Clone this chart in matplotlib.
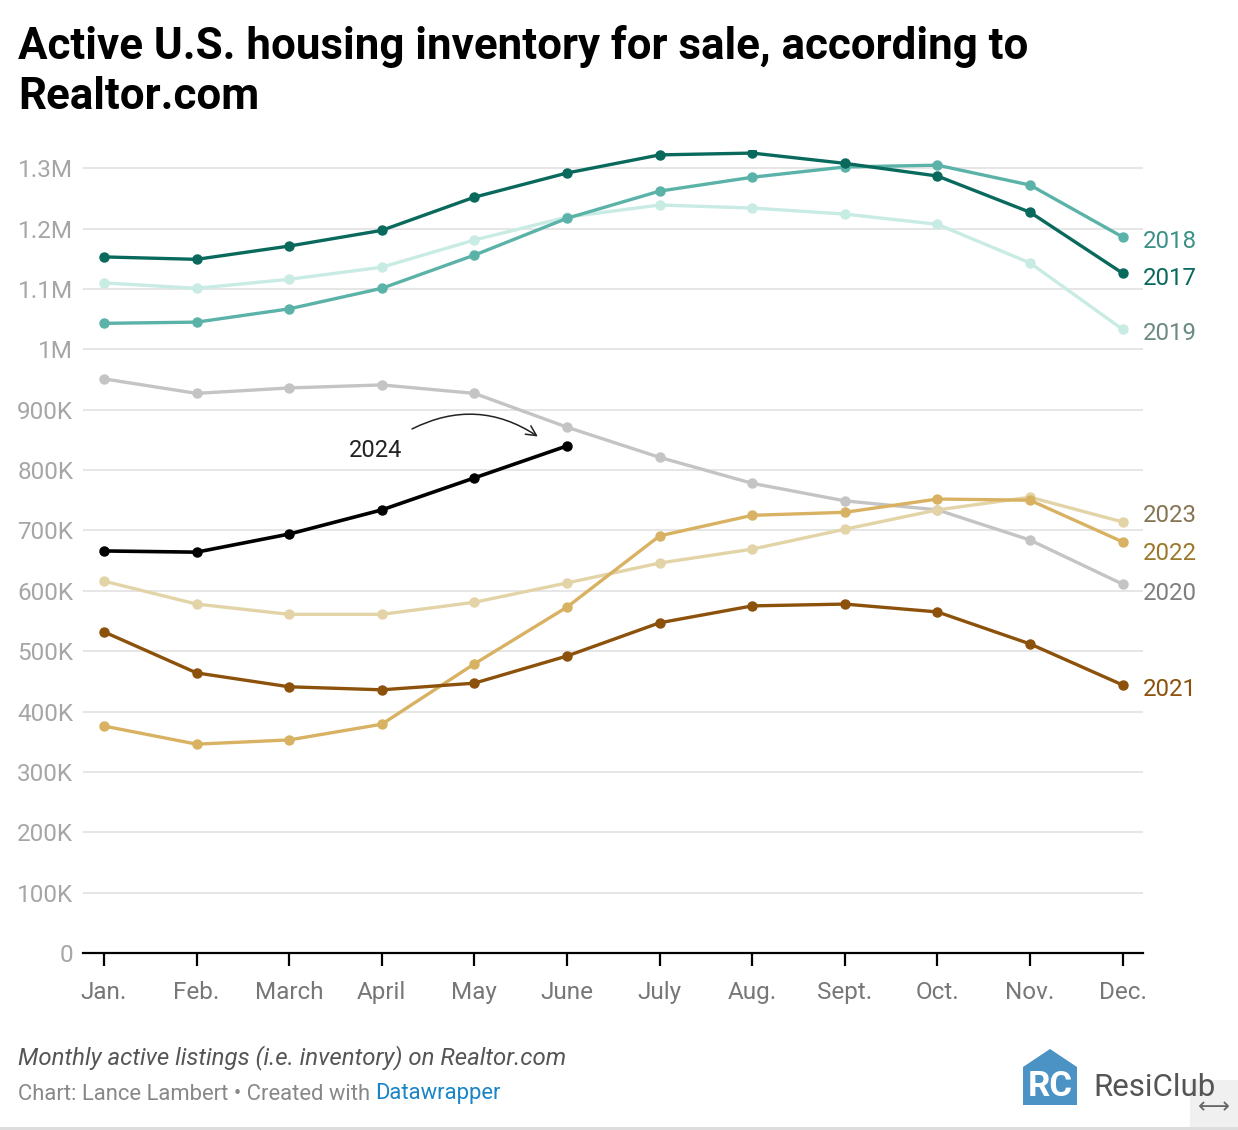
import matplotlib.pyplot as plt
from matplotlib.patches import Polygon, Rectangle

plt.rcParams['font.family'] = ['Roboto', 'DejaVu Sans']

months = ['Jan.', 'Feb.', 'March', 'April', 'May', 'June', 'July', 'Aug.', 'Sept.', 'Oct.', 'Nov.', 'Dec.']

# active listings, millions
y2017 = [1.153, 1.149, 1.171, 1.197, 1.252, 1.292, 1.322, 1.325, 1.308, 1.287, 1.227, 1.126]
y2018 = [1.043, 1.045, 1.067, 1.101, 1.156, 1.217, 1.262, 1.285, 1.302, 1.305, 1.272, 1.186]
y2019 = [1.110, 1.101, 1.116, 1.136, 1.181, 1.219, 1.239, 1.234, 1.224, 1.207, 1.143, 1.033]
y2020 = [0.951, 0.927, 0.936, 0.941, 0.927, 0.871, 0.821, 0.778, 0.749, 0.734, 0.684, 0.611]
y2021 = [0.532, 0.464, 0.441, 0.436, 0.447, 0.492, 0.547, 0.575, 0.578, 0.565, 0.512, 0.444]
y2022 = [0.376, 0.346, 0.353, 0.379, 0.479, 0.573, 0.691, 0.725, 0.730, 0.752, 0.750, 0.681]
y2023 = [0.616, 0.578, 0.561, 0.561, 0.581, 0.613, 0.646, 0.669, 0.702, 0.734, 0.755, 0.714]
y2024 = [0.666, 0.664, 0.694, 0.734, 0.787, 0.840]

yticks = [0, 0.1, 0.2, 0.3, 0.4, 0.5, 0.6, 0.7, 0.8, 0.9, 1.0, 1.1, 1.2, 1.3]
ytick_labels = ['0', '100K', '200K', '300K', '400K', '500K', '600K', '700K', '800K', '900K',
                '1M', '1.1M', '1.2M', '1.3M']

series = [
    ('2020', y2020, '#c4c4c4', '#7f7f7f', 0.596),
    ('2023', y2023, '#e3d4a8', '#857552', 0.724),
    ('2022', y2022, '#d8b262', '#9c7a2c', 0.661),
    ('2021', y2021, '#8c510a', '#8c510a', 0.437),
    ('2019', y2019, '#c8ebe4', '#6b8a84', 1.026),
    ('2018', y2018, '#5ab2a8', '#3b9088', 1.179),
    ('2017', y2017, '#08695c', '#08695c', 1.117),
]

fig = plt.figure(figsize=(12.38, 11.30), dpi=100)
ax = fig.add_axes([0.067, 0.1566, 0.856, 0.7106])

x = list(range(12))
for name, vals, col, lcol, ly in series:
    ax.plot(x[:len(vals)], vals, color=col, lw=2.4, marker='o', ms=6.5, zorder=3,
            solid_capstyle='round')
    ax.text(11.22, ly, name, color=lcol, fontsize=17.3, va='center', ha='left', clip_on=False)

ax.plot(x[:len(y2024)], y2024, color='black', lw=2.6, marker='o', ms=6.5, zorder=4)
ax.text(2.93, 0.833, '2024', fontsize=17, color='#222222', ha='center', va='center')
ax.annotate('', xy=(4.71, 0.853), xytext=(3.30, 0.866),
            arrowprops=dict(arrowstyle='->', color='#222222', lw=1.1,
                            connectionstyle='arc3,rad=-0.3', mutation_scale=18))

ax.set_xlim(-0.227, 11.216)
ax.set_ylim(0, 1.33)
ax.set_yticks(yticks)
ax.set_yticklabels(ytick_labels)
ax.set_xticks(x)
ax.set_xticklabels(months)
ax.grid(axis='y', color='#e2e2e2', lw=1.2)
ax.set_axisbelow(True)
for s in ['top', 'right', 'left']:
    ax.spines[s].set_visible(False)
ax.spines['bottom'].set_color('black')
ax.spines['bottom'].set_linewidth(1.6)
ax.spines['bottom'].set_zorder(5)
ax.tick_params(axis='y', length=0, labelsize=17.5, labelcolor='#a6a6a6', pad=7)
ax.tick_params(axis='x', length=9, width=1.6, color='black', labelsize=17.5,
               labelcolor='#777777', pad=11, direction='out')

fig.text(18 / 1238, 1 - 46 / 1130, 'Active U.S. housing inventory for sale, according to',
         fontsize=31.6, fontweight='bold', va='center', ha='left')
fig.text(18 / 1238, 1 - 97 / 1130, 'Realtor.com',
         fontsize=31.6, fontweight='bold', va='center', ha='left')

fig.text(18 / 1238, 1 - 1058 / 1130, 'Monthly active listings (i.e. inventory) on Realtor.com',
         fontsize=17.3, style='italic', color='#555555', va='center')
t1 = fig.text(18 / 1238, 1 - 1094 / 1130, 'Chart: Lance Lambert \u2022 Created with ',
              fontsize=15.8, color='#888888', va='center')
fig.canvas.draw()
bb = t1.get_window_extent()
fig.text(bb.x1 / 1238, 1 - 1094 / 1130, 'Datawrapper', fontsize=15.8, color='#1a84c7',
         va='center')

# logo
W, H = 1238, 1130
def fx(px):
    return px / W
def fy(py):
    return 1 - py / H
house = Polygon([(fx(1023), fy(1067)), (fx(1050), fy(1049)), (fx(1077), fy(1067)),
                 (fx(1077), fy(1105)), (fx(1023), fy(1105))], closed=True,
                facecolor='#4a93c4', edgecolor='none', transform=fig.transFigure)
fig.patches.append(house)
fig.text(fx(1050), fy(1087), 'RC', fontsize=25, fontweight='bold', color='white',
         ha='center', va='center')
fig.patches.append(Rectangle((fx(1190), fy(1128)), fx(48), 48 / H, facecolor='#f0f0f0',
                             edgecolor='none', transform=fig.transFigure))
fig.text(fx(1093), fy(1087), 'ResiClub', fontsize=22.5, color='#555555', va='center')
fig.text(fx(1214), fy(1107), '\u27f7', fontsize=16, color='#666666', ha='center', va='center',
         family=['DejaVu Sans'])
fig.patches.append(Rectangle((0, 0), 1, 3 / H, facecolor='#dddddd', edgecolor='none',
                             transform=fig.transFigure))

fig.savefig('out.png', dpi=100)
